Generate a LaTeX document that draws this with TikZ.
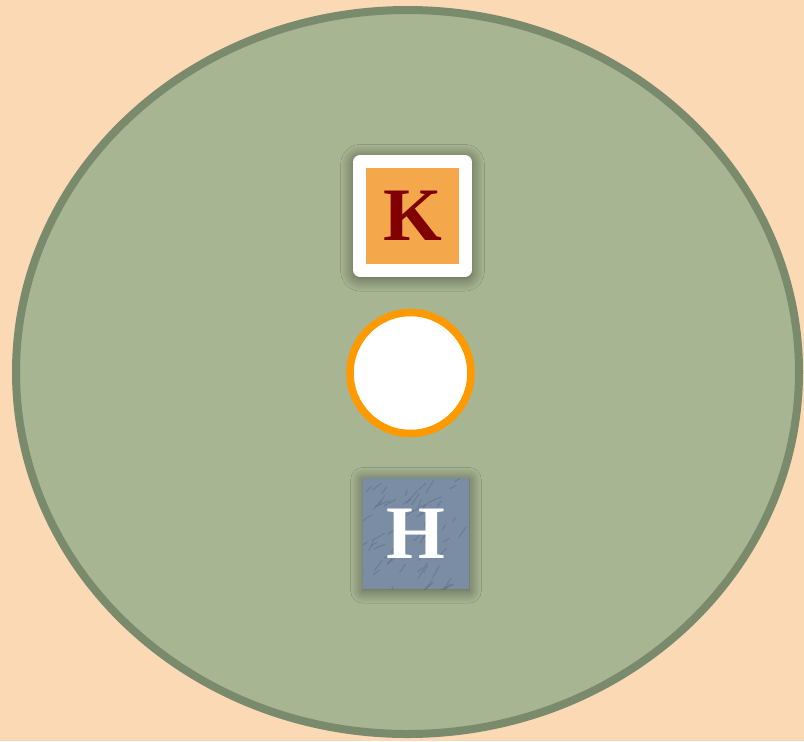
\documentclass[tikz,border=0pt]{standalone}
\usepackage{fontspec}
\setmainfont{Liberation Serif}
\usetikzlibrary{shadows.blur}

\definecolor{fondpeche}{HTML}{FBD9B5}
\definecolor{sauge}{HTML}{A7B592}
\definecolor{saugefonce}{HTML}{7A8A6C}
\definecolor{orangek}{HTML}{F4A74B}
\definecolor{rougek}{HTML}{800000}
\definecolor{orangevif}{HTML}{FF9900}
\definecolor{ardoise}{HTML}{7B8DA5}

\begin{document}
\begin{tikzpicture}[
  x=0.02cm, y=-0.02cm,
  lettre/.style={
    font=\fontsize{43}{43}\selectfont\bfseries,
    inner sep=0pt
  },
  ombre/.style={
    blur shadow={shadow xshift=0pt, shadow yshift=-1pt, shadow blur radius=7pt,
      shadow blur steps=12, shadow opacity=50}
  },
  cadre/.style={
    fill=white,
    rounded corners=4pt,
    minimum width=2.38cm,
    minimum height=2.44cm,
    inner sep=0pt,
    ombre
  },
  carreK/.style={
    fill=orangek,
    minimum width=1.86cm,
    minimum height=1.92cm,
    inner sep=0pt
  },
  carreH/.style={
    fill=ardoise,
    minimum width=2.12cm,
    minimum height=2.22cm,
    inner sep=0pt,
    ombre
  },
  anneau/.style={
    circle,
    fill=white,
    draw=orangevif,
    line width=0.15cm,
    minimum size=2.42cm,
    inner sep=0pt
  },
  grain/.style={
    draw=ardoise!65!black,
    line width=0.6pt,
    line cap=round,
    opacity=0.35
  }
]
  % fond
  \fill[fondpeche] (0,0) rectangle (804,741);
  \useasboundingbox (0,0) rectangle (804,741);

  % grand disque
  \draw[fill=sauge, draw=saugefonce, line width=0.16cm] (407.5,372) ellipse [x radius=391.5, y radius=362];

  % carre K
  \node[cadre] (kcadre) at (412.5,216) {};
  \node[carreK] (k) at (kcadre) {};
  \node[lettre, text=rougek] (klettre) at (k) {K};

  % anneau
  \node[anneau] (rond) at (410.5,373) {};

  % carre H texture
  \node[carreH] (h) at (416,533.5) {};
  \begin{scope}
    \clip (h.south west) rectangle (h.north east);
    \pgfmathsetseed{11}
    \foreach \i in {1,...,60} {
      \pgfmathsetmacro\px{363+106*rnd}
      \pgfmathsetmacro\py{478+111*rnd}
      \pgfmathsetmacro\ang{200+50*rnd}
      \pgfmathsetmacro\lg{0.1+0.25*rnd}
      \draw[grain] (\px,\py) -- ++(\ang:\lg cm);
    }
  \end{scope}
  \node[lettre, text=white] (hlettre) at (h) {H};
\end{tikzpicture}
\end{document}
